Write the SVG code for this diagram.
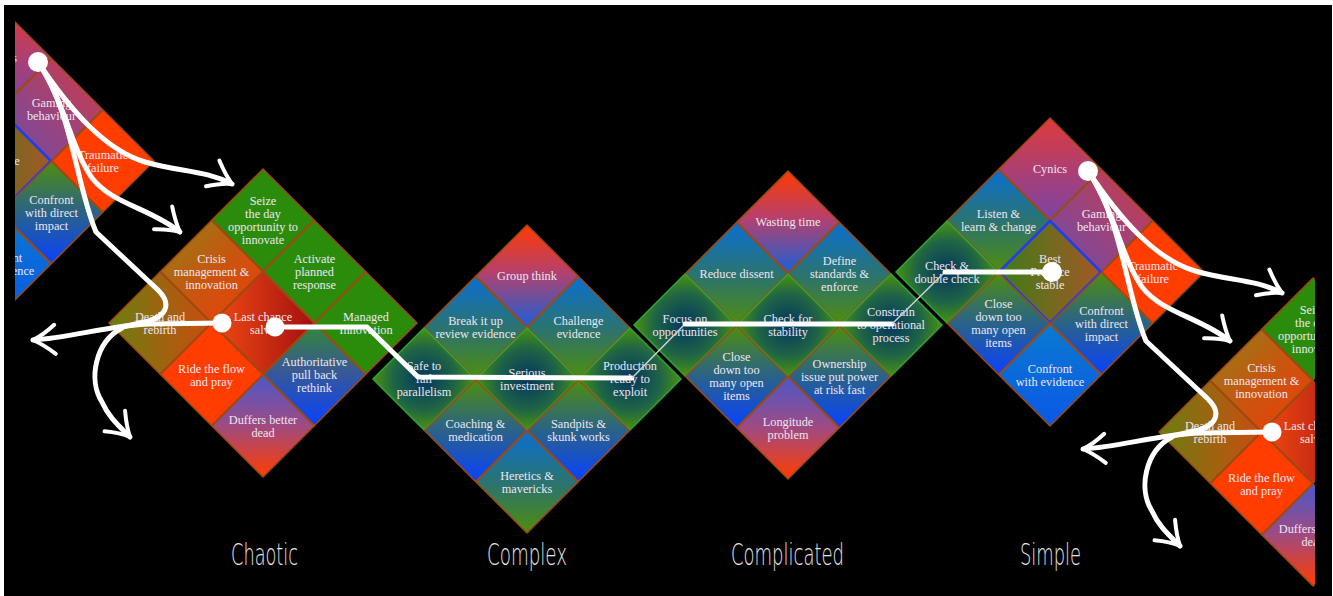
<svg xmlns="http://www.w3.org/2000/svg" xmlns:xlink="http://www.w3.org/1999/xlink" width="1333" height="596" viewBox="0 0 1333 596">
<style>
.tile{stroke:#9c4a12;stroke-width:1.5}
.sg{stroke:#2fa33a}
.sb{stroke:#1b3dff;stroke-width:2.5}
.f-grn{fill:#2b8c0c}
.f-org{fill:#ff3d00}
.f-rb{fill:url(#gRB)}
.f-bg{fill:url(#gBG)}
.f-gb{fill:url(#gGB)}
.f-rad{fill:url(#gRad)}
.f-br{fill:url(#gBR)}
.f-cyn{fill:url(#gCyn)}
.f-game{fill:url(#gGame)}
.f-best{fill:url(#gBest)}
.f-evid{fill:url(#gEvid)}
.f-cri{fill:url(#gCri)}
.f-dth{fill:url(#gDth)}
.f-last{fill:url(#gLast)}
.f-auth{fill:url(#gAuth)}
.t{font-family:"Liberation Serif","DejaVu Serif",serif;font-size:12.3px;fill:#ece6f2;text-anchor:middle}
.lbl{font-family:"DejaVu Sans","Liberation Sans",sans-serif;font-size:30px;font-weight:300;fill:#e6e6e6}
.c{fill:none;stroke:#fff;stroke-width:5;stroke-linecap:round;stroke-linejoin:round}
.thin{fill:none;stroke:#d0d0d0;stroke-width:1.5}
.dot{fill:#fff}
</style>
<defs>
<path id="tile" d="M0,-51 L51,0 L0,51 L-51,0Z"/>
<linearGradient id="gRB" x1="0" y1="0" x2="0" y2="1"><stop offset="0" stop-color="#ff3a00"/><stop offset="0.45" stop-color="#b8406a"/><stop offset="1" stop-color="#1a60d8"/></linearGradient>
<linearGradient id="gBG" x1="0" y1="0" x2="0" y2="1"><stop offset="0" stop-color="#0a6fd2"/><stop offset="0.55" stop-color="#2e7468"/><stop offset="1" stop-color="#4e8e0e"/></linearGradient>
<linearGradient id="gGB" x1="0" y1="0" x2="0" y2="1"><stop offset="0" stop-color="#4e8e0e"/><stop offset="0.5" stop-color="#2a6288"/><stop offset="1" stop-color="#0842ff"/></linearGradient>
<radialGradient id="gRad" cx="0.5" cy="0.5" r="0.5"><stop offset="0" stop-color="#03365e"/><stop offset="0.6" stop-color="#1e6446"/><stop offset="1" stop-color="#4a920e"/></radialGradient>
<linearGradient id="gBR" x1="0" y1="0" x2="0" y2="1"><stop offset="0" stop-color="#4a58cc"/><stop offset="0.5" stop-color="#a04a80"/><stop offset="1" stop-color="#ff3c00"/></linearGradient>
<linearGradient id="gCyn" x1="0" y1="0" x2="0" y2="1"><stop offset="0" stop-color="#e03a3c"/><stop offset="1" stop-color="#7a44a6"/></linearGradient>
<linearGradient id="gGame" x1="0" y1="1" x2="1" y2="0"><stop offset="0" stop-color="#6a4cae"/><stop offset="1" stop-color="#d23a44"/></linearGradient>
<linearGradient id="gBest" x1="0" y1="0" x2="1" y2="0"><stop offset="0" stop-color="#3e7c18"/><stop offset="1" stop-color="#a45826"/></linearGradient>
<linearGradient id="gEvid" x1="0" y1="0" x2="0" y2="1"><stop offset="0" stop-color="#0a7ad0"/><stop offset="1" stop-color="#0a58e6"/></linearGradient>
<linearGradient id="gCri" x1="0" y1="0" x2="1" y2="1"><stop offset="0" stop-color="#88841a"/><stop offset="0.5" stop-color="#c8560e"/><stop offset="1" stop-color="#f03c08"/></linearGradient>
<linearGradient id="gDth" x1="0" y1="0" x2="1" y2="0"><stop offset="0" stop-color="#6a7e10"/><stop offset="1" stop-color="#cc4c10"/></linearGradient>
<linearGradient id="gLast" x1="0" y1="0" x2="1" y2="0"><stop offset="0" stop-color="#f04a12"/><stop offset="1" stop-color="#a41010"/></linearGradient>
<linearGradient id="gAuth" x1="0" y1="0" x2="0" y2="1"><stop offset="0" stop-color="#2e8a36"/><stop offset="0.45" stop-color="#3a5a90"/><stop offset="1" stop-color="#0842ff"/></linearGradient>
<clipPath id="clipL"><rect x="15" y="0" width="200" height="596"/></clipPath>
<clipPath id="clipR"><rect x="1100" y="0" width="215" height="596"/></clipPath>
<marker id="ah" markerUnits="userSpaceOnUse" viewBox="-26 -18 30 36" markerWidth="30" markerHeight="36" refX="0" refY="0" orient="auto" overflow="visible"><path d="M-22,-15 Q-10,-5 0,0 Q-10,4 -22,14" fill="none" stroke="#fff" stroke-width="4" stroke-linecap="round" stroke-linejoin="round"/></marker>
</defs>
<rect width="1333" height="596" fill="#fff"/>
<rect x="4" y="5" width="1328" height="591" fill="#000"/>

<g id="simple-copy-left" clip-path="url(#clipL)">
<g id="sl-cynics"><use href="#tile" x="0" y="58" class="tile f-cyn"/><text class="t"><tspan x="0" y="62">Cynics</tspan></text></g>
<g id="sl-gaming"><use href="#tile" x="51.5" y="109.5" class="tile f-game"/><text class="t"><tspan x="51.5" y="107">Gaming</tspan><tspan x="51.5" y="120">behaviour</tspan></text></g>
<g id="sl-best"><use href="#tile" x="0" y="161" class="tile sb f-best"/><text class="t"><tspan x="0" y="152">Best</tspan><tspan x="0" y="165">Practice</tspan><tspan x="0" y="178">stable</tspan></text></g>
<g id="sl-traumatic"><use href="#tile" x="103" y="161" class="tile f-org"/><text class="t"><tspan x="103" y="158.5">Traumatic</tspan><tspan x="103" y="171.5">failure</tspan></text></g>
<g id="sl-confront-direct"><use href="#tile" x="51.5" y="212.5" class="tile f-gb"/><text class="t"><tspan x="51.5" y="203.5">Confront</tspan><tspan x="51.5" y="216.5">with direct</tspan><tspan x="51.5" y="229.5">impact</tspan></text></g>
<g id="sl-confront-evidence"><use href="#tile" x="0" y="264" class="tile f-evid"/><text class="t"><tspan x="0" y="261.5">Confront</tspan><tspan x="0" y="274.5">with evidence</tspan></text></g>
</g>

<g id="chaotic">
<g id="ch-seize"><use href="#tile" x="263" y="220" class="tile f-grn"/><text class="t"><tspan x="263" y="204.5">Seize</tspan><tspan x="263" y="217.5">the day</tspan><tspan x="263" y="230.5">opportunity to</tspan><tspan x="263" y="243.5">innovate</tspan></text></g>
<g id="ch-crisis"><use href="#tile" x="211.5" y="271.5" class="tile f-cri"/><text class="t"><tspan x="211.5" y="262.5">Crisis</tspan><tspan x="211.5" y="275.5">management &amp;</tspan><tspan x="211.5" y="288.5">innovation</tspan></text></g>
<g id="ch-activate"><use href="#tile" x="314.5" y="271.5" class="tile f-grn"/><text class="t"><tspan x="314.5" y="262.5">Activate</tspan><tspan x="314.5" y="275.5">planned</tspan><tspan x="314.5" y="288.5">response</tspan></text></g>
<g id="ch-death"><use href="#tile" x="160" y="323" class="tile f-dth"/><text class="t"><tspan x="160" y="321">Death and</tspan><tspan x="160" y="334">rebirth</tspan></text></g>
<g id="ch-last"><use href="#tile" x="263" y="323" class="tile f-last"/><text class="t"><tspan x="263" y="321">Last chance</tspan><tspan x="263" y="334">salvo</tspan></text></g>
<g id="ch-managed"><use href="#tile" x="366" y="323" class="tile f-grn"/><text class="t"><tspan x="366" y="321">Managed</tspan><tspan x="366" y="334">Innovation</tspan></text></g>
<g id="ch-ride"><use href="#tile" x="211.5" y="374.5" class="tile f-org"/><text class="t"><tspan x="211.5" y="373">Ride the flow</tspan><tspan x="211.5" y="386">and pray</tspan></text></g>
<g id="ch-authoritative"><use href="#tile" x="314.5" y="374.5" class="tile f-auth"/><text class="t"><tspan x="314.5" y="366">Authoritative</tspan><tspan x="314.5" y="379">pull back</tspan><tspan x="314.5" y="392">rethink</tspan></text></g>
<g id="ch-duffers"><use href="#tile" x="263" y="426" class="tile f-br"/><text class="t"><tspan x="263" y="424">Duffers better</tspan><tspan x="263" y="437">dead</tspan></text></g>
</g>

<g id="complex">
<g id="cx-group"><use href="#tile" x="527" y="276" class="tile f-rb"/><text class="t"><tspan x="527" y="280">Group think</tspan></text></g>
<g id="cx-break"><use href="#tile" x="475.5" y="327.5" class="tile f-bg"/><text class="t"><tspan x="475.5" y="325">Break it up</tspan><tspan x="475.5" y="338">review evidence</tspan></text></g>
<g id="cx-challenge"><use href="#tile" x="578.5" y="327.5" class="tile f-bg"/><text class="t"><tspan x="578.5" y="325">Challenge</tspan><tspan x="578.5" y="338">evidence</tspan></text></g>
<g id="cx-safe"><use href="#tile" x="424" y="379" class="tile sg f-rad"/><text class="t"><tspan x="424" y="370">Safe to</tspan><tspan x="424" y="383">fail</tspan><tspan x="424" y="396">parallelism</tspan></text></g>
<g id="cx-serious"><use href="#tile" x="527" y="379" class="tile sg f-rad"/><text class="t"><tspan x="527" y="376.5">Serious</tspan><tspan x="527" y="389.5">investment</tspan></text></g>
<g id="cx-production"><use href="#tile" x="630" y="379" class="tile sg f-rad"/><text class="t"><tspan x="630" y="370">Production</tspan><tspan x="630" y="383">ready to</tspan><tspan x="630" y="396">exploit</tspan></text></g>
<g id="cx-coaching"><use href="#tile" x="475.5" y="430.5" class="tile f-gb"/><text class="t"><tspan x="475.5" y="428">Coaching &amp;</tspan><tspan x="475.5" y="441">medication</tspan></text></g>
<g id="cx-sandpits"><use href="#tile" x="578.5" y="430.5" class="tile f-gb"/><text class="t"><tspan x="578.5" y="428">Sandpits &amp;</tspan><tspan x="578.5" y="441">skunk works</tspan></text></g>
<g id="cx-heretics"><use href="#tile" x="527" y="482" class="tile f-bg"/><text class="t"><tspan x="527" y="479.5">Heretics &amp;</tspan><tspan x="527" y="492.5">mavericks</tspan></text></g>
</g>

<g id="complicated">
<g id="cp-wasting"><use href="#tile" x="788" y="222" class="tile f-rb"/><text class="t"><tspan x="788" y="226">Wasting time</tspan></text></g>
<g id="cp-reduce"><use href="#tile" x="736.5" y="273.5" class="tile f-bg"/><text class="t"><tspan x="736.5" y="277.5">Reduce dissent</tspan></text></g>
<g id="cp-define"><use href="#tile" x="839.5" y="273.5" class="tile f-bg"/><text class="t"><tspan x="839.5" y="264.5">Define</tspan><tspan x="839.5" y="277.5">standards &amp;</tspan><tspan x="839.5" y="290.5">enforce</tspan></text></g>
<g id="cp-focus"><use href="#tile" x="685" y="325" class="tile sg f-rad"/><text class="t"><tspan x="685" y="322.5">Focus on</tspan><tspan x="685" y="335.5">opportunities</tspan></text></g>
<g id="cp-check"><use href="#tile" x="788" y="325" class="tile sg f-rad"/><text class="t"><tspan x="788" y="322.5">Check for</tspan><tspan x="788" y="335.5">stability</tspan></text></g>
<g id="cp-constrain"><use href="#tile" x="891" y="325" class="tile sg f-rad"/><text class="t"><tspan x="891" y="316">Constrain</tspan><tspan x="891" y="329">to operational</tspan><tspan x="891" y="342">process</tspan></text></g>
<g id="cp-close"><use href="#tile" x="736.5" y="376.5" class="tile f-gb"/><text class="t"><tspan x="736.5" y="361">Close</tspan><tspan x="736.5" y="374">down too</tspan><tspan x="736.5" y="387">many open</tspan><tspan x="736.5" y="400">items</tspan></text></g>
<g id="cp-ownership"><use href="#tile" x="839.5" y="376.5" class="tile f-gb"/><text class="t"><tspan x="839.5" y="367.5">Ownership</tspan><tspan x="839.5" y="380.5">issue put power</tspan><tspan x="839.5" y="393.5">at risk fast</tspan></text></g>
<g id="cp-longitude"><use href="#tile" x="788" y="428" class="tile f-br"/><text class="t"><tspan x="788" y="425.5">Longitude</tspan><tspan x="788" y="438.5">problem</tspan></text></g>
</g>

<g id="simple">
<g id="sp-cynics"><use href="#tile" x="1050" y="169" class="tile f-cyn"/><text class="t"><tspan x="1050" y="173">Cynics</tspan></text></g>
<g id="sp-listen"><use href="#tile" x="998.5" y="220.5" class="tile f-bg"/><text class="t"><tspan x="998.5" y="218">Listen &amp;</tspan><tspan x="998.5" y="231">learn &amp; change</tspan></text></g>
<g id="sp-gaming"><use href="#tile" x="1101.5" y="220.5" class="tile f-game"/><text class="t"><tspan x="1101.5" y="218">Gaming</tspan><tspan x="1101.5" y="231">behaviour</tspan></text></g>
<g id="sp-check"><use href="#tile" x="947" y="272" class="tile sg f-rad"/><text class="t"><tspan x="947" y="269.5">Check &amp;</tspan><tspan x="947" y="282.5">double check</tspan></text></g>
<g id="sp-best"><use href="#tile" x="1050" y="272" class="tile sb f-best"/><text class="t"><tspan x="1050" y="263">Best</tspan><tspan x="1050" y="276">Practice</tspan><tspan x="1050" y="289">stable</tspan></text></g>
<g id="sp-traumatic"><use href="#tile" x="1153" y="272" class="tile f-org"/><text class="t"><tspan x="1153" y="269.5">Traumatic</tspan><tspan x="1153" y="282.5">failure</tspan></text></g>
<g id="sp-close"><use href="#tile" x="998.5" y="323.5" class="tile f-gb"/><text class="t"><tspan x="998.5" y="308">Close</tspan><tspan x="998.5" y="321">down too</tspan><tspan x="998.5" y="334">many open</tspan><tspan x="998.5" y="347">items</tspan></text></g>
<g id="sp-confront-direct"><use href="#tile" x="1101.5" y="323.5" class="tile f-gb"/><text class="t"><tspan x="1101.5" y="314.5">Confront</tspan><tspan x="1101.5" y="327.5">with direct</tspan><tspan x="1101.5" y="340.5">impact</tspan></text></g>
<g id="sp-confront-evidence"><use href="#tile" x="1050" y="375" class="tile f-evid"/><text class="t"><tspan x="1050" y="372.5">Confront</tspan><tspan x="1050" y="385.5">with evidence</tspan></text></g>
</g>

<g id="chaotic-copy-right" clip-path="url(#clipR)">
<g id="cr-seize"><use href="#tile" x="1313" y="329" class="tile f-grn"/><text class="t"><tspan x="1313" y="313.5">Seize</tspan><tspan x="1313" y="326.5">the day</tspan><tspan x="1313" y="339.5">opportunity to</tspan><tspan x="1313" y="352.5">innovate</tspan></text></g>
<g id="cr-crisis"><use href="#tile" x="1261.5" y="380.5" class="tile f-cri"/><text class="t"><tspan x="1261.5" y="371.5">Crisis</tspan><tspan x="1261.5" y="384.5">management &amp;</tspan><tspan x="1261.5" y="397.5">innovation</tspan></text></g>
<g id="cr-death"><use href="#tile" x="1210" y="432" class="tile f-dth"/><text class="t"><tspan x="1210" y="430">Death and</tspan><tspan x="1210" y="443">rebirth</tspan></text></g>
<g id="cr-last"><use href="#tile" x="1313" y="432" class="tile f-last"/><text class="t"><tspan x="1313" y="430">Last chance</tspan><tspan x="1313" y="443">salvo</tspan></text></g>
<g id="cr-ride"><use href="#tile" x="1261.5" y="483.5" class="tile f-org"/><text class="t"><tspan x="1261.5" y="482">Ride the flow</tspan><tspan x="1261.5" y="495">and pray</tspan></text></g>
<g id="cr-duffers"><use href="#tile" x="1313" y="535" class="tile f-br"/><text class="t"><tspan x="1313" y="533">Duffers better</tspan><tspan x="1313" y="546">dead</tspan></text></g>
</g>

<g id="connectors">
<g id="fan-left">
<path class="c" d="M38,62 C70,110 105,150 145,162 C180,172 205,170 232,184" marker-end="url(#ah)"/>
<path class="c" d="M38,62 C66,105 72,150 92,178 C112,204 150,208 180,232" marker-end="url(#ah)"/>
<path class="c" d="M38,62 C72,110 76,185 96,232 L158,290 C172,304 168,318 140,323 L122,327"/>
<path class="c" d="M222,323 L150,324 C110,325 70,338 33,340" marker-end="url(#ah)"/>
<path class="c" d="M122,328 C95,342 88,380 102,402 C108,416 118,425 130,437" marker-end="url(#ah)"/>
<circle class="dot" cx="38" cy="62" r="10"/>
<circle class="dot" cx="222" cy="323" r="9.5"/>
</g>
<use href="#fan-left" x="1050" y="109"/>
<path class="c" d="M275,327 L367,327 L418,377 L632,378"/>
<path class="thin" d="M632,378 L685,324"/>
<path class="c" d="M685,324 L892,324"/>
<path class="thin" d="M892,324 L945,272"/>
<path class="c" d="M945,272 L1052,272"/>
<circle class="dot" cx="275" cy="327" r="9.5"/>
<circle class="dot" cx="1052" cy="272" r="10"/>
</g>

<g id="labels">
<text class="lbl" x="231" y="565" textLength="67" lengthAdjust="spacingAndGlyphs">Chaotic</text>
<text class="lbl" x="487" y="565" textLength="80" lengthAdjust="spacingAndGlyphs">Complex</text>
<text class="lbl" x="731" y="565" textLength="113" lengthAdjust="spacingAndGlyphs">Complicated</text>
<text class="lbl" x="1020" y="565" textLength="61" lengthAdjust="spacingAndGlyphs">Simple</text>
</g>
</svg>
